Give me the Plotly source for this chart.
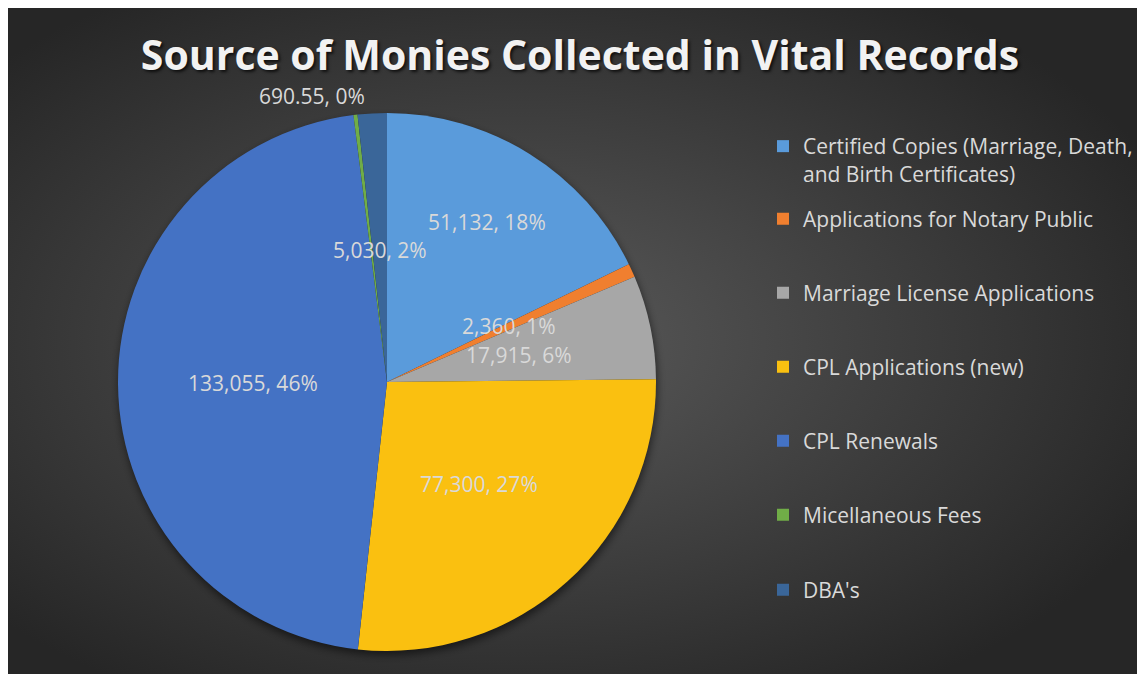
import base64
import math
import plotly.graph_objects as go

# ---------------- data ----------------
categories = [
    "Certified Copies (Marriage, Death,<br>and Birth Certificates)",
    "Applications for Notary Public",
    "Marriage License Applications",
    "CPL Applications (new)",
    "CPL Renewals",
    "Micellaneous Fees",
    "DBA's",
]
values = [51132, 2360, 17915, 77300, 133055, 690.55, 5030]
colors = ["#5a9bdb", "#f07f2f", "#a7a7a7", "#fac010", "#4472c4", "#70ad47", "#3a6699"]
# data-label placement (style): radius as fraction of pie radius, angle nudge in degrees
label_radius = [0.70, 0.50, 0.50, 0.51, 0.50, 1.10, 0.49]
label_angle_nudge = [0, 0, 0, 0, 0, -8, 0]
title_text = "Source of Monies Collected in Vital Records"

# figure sits at an 8px page offset inside a 1145x674 window
OFF = 8
W, H = 1145 - OFF, 674 - OFF

# pie geometry in figure pixels
cx, cy, R = 387 - OFF, 382 - OFF, 269

# ---------------- background gradient + pie shadow (svg data uri) ----------------
svg = f"""<svg xmlns='http://www.w3.org/2000/svg' width='{W}' height='{H}' viewBox='0 0 {W} {H}' preserveAspectRatio='none'>
<defs>
<radialGradient id='g' cx='0.45' cy='0.5' r='0.62' gradientUnits='objectBoundingBox'>
<stop offset='0' stop-color='#5a5a5a'/><stop offset='1' stop-color='#262626'/></radialGradient>
<filter id='b' x='-20%' y='-20%' width='140%' height='140%'><feGaussianBlur stdDeviation='4'/></filter>
</defs>
<rect width='{W}' height='{H}' fill='url(#g)'/>
<circle cx='{cx + 1}' cy='{cy + 4}' r='{R}' fill='black' fill-opacity='0.55' filter='url(#b)'/>
</svg>"""
bg_src = "data:image/svg+xml;base64," + base64.b64encode(svg.encode()).decode()

fig = go.Figure()

fig.add_trace(go.Pie(
    labels=categories,
    values=values,
    sort=False,
    direction="clockwise",
    rotation=0,
    marker=dict(colors=colors, line=dict(width=0)),
    textinfo="none",
    showlegend=False,
    domain=dict(x=[(cx - R) / W, (cx + R) / W], y=[(H - cy - R) / H, (H - cy + R) / H]),
    hoverinfo="label+value+percent",
))

# data labels placed at the mid-angle of each slice
total = sum(values)
annotations = []
cum = 0.0
for v, f, nudge in zip(values, label_radius, label_angle_nudge):
    mid = (cum + v / 2) / total * 2 * math.pi + math.radians(nudge)
    cum += v
    px = cx + f * R * math.sin(mid)
    py = cy - f * R * math.cos(mid)
    pct = round(v / total * 100)
    vtxt = f"{v:,.2f}" if v != int(v) else f"{int(v):,}"
    annotations.append(dict(
        text=f"{vtxt}, {pct}%", x=px / W, y=(H - py) / H,
        xref="paper", yref="paper", xanchor="center", yanchor="middle",
        showarrow=False, font=dict(family="Open Sans", size=21, color="#d9d9d9"),
    ))

# legend entries, each in its own legend for Excel-like spacing
legend_centers = [160, 219, 293, 367, 441, 515, 590]
layout_legends = {}
for i, (name, col) in enumerate(zip(categories, colors)):
    lname = "legend" if i == 0 else f"legend{i + 1}"
    fig.add_trace(go.Scatter(
        x=[None], y=[None], mode="markers", name=name,
        marker=dict(symbol="square", size=15, color=col),
        legend=lname, showlegend=True, hoverinfo="skip",
    ))
    layout_legends[lname] = dict(
        x=(763 - OFF) / W, xanchor="left",
        y=(H - (legend_centers[i] - OFF)) / H, yanchor="middle",
        bgcolor="rgba(0,0,0,0)", borderwidth=0,
        font=dict(family="Open Sans", size=21, color="#d9d9d9"),
        valign="top", itemsizing="constant",
    )

fig.update_layout(
    width=W, height=H,
    margin=dict(l=0, r=0, t=0, b=0),
    paper_bgcolor="#2a2a2a",
    plot_bgcolor="rgba(0,0,0,0)",
    xaxis=dict(visible=False),
    yaxis=dict(visible=False),
    title=dict(
        text=f"<b>{title_text}</b>",
        x=(580 - OFF) / W, xanchor="center",
        y=(H - (56 - OFF)) / H, yanchor="middle",
        font=dict(family="Open Sans", size=41, color="#f2f2f2",
                  shadow="2px 2px 3px rgba(0,0,0,0.7)"),
    ),
    annotations=annotations,
    images=[dict(
        source=bg_src, xref="paper", yref="paper",
        x=0, y=1, sizex=1, sizey=1,
        xanchor="left", yanchor="top", sizing="stretch", layer="below",
    )],
    **layout_legends,
)

fig.write_html("out.html")
